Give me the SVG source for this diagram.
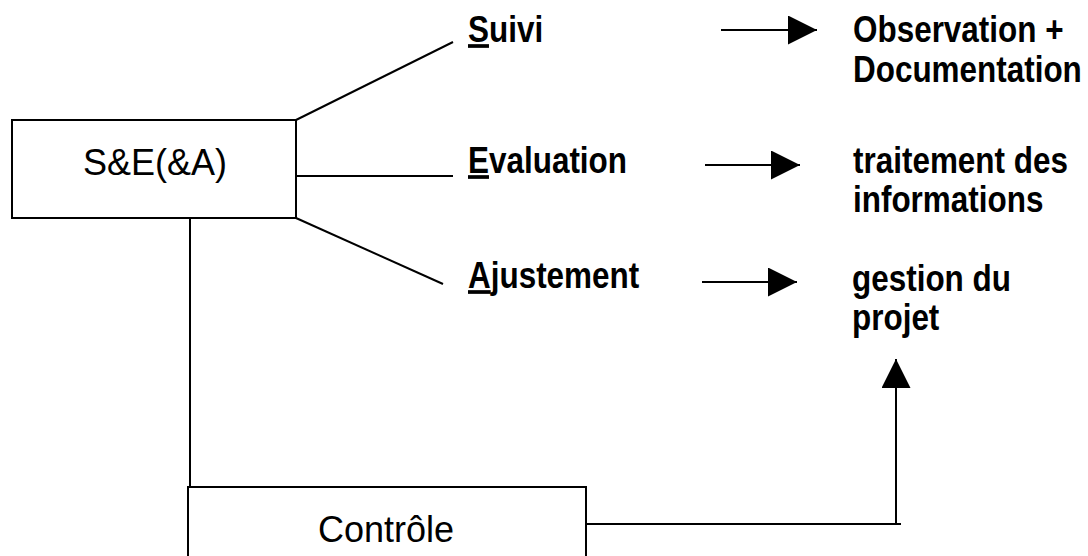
<svg xmlns="http://www.w3.org/2000/svg" width="1088" height="556" viewBox="0 0 1088 556">
  <style>
    .box { fill: #fff; stroke: #000; stroke-width: 2; }
    .line { fill: none; stroke: #000; stroke-width: 2; }
    .arrow { fill: none; stroke: #000; stroke-width: 2; marker-end: url(#head); }
    .reg { font-family: "Liberation Sans", Arial, sans-serif; font-size: 36px; fill: #000; }
    /* narrow bold labels: tall glyphs squeezed horizontally */
    .bold { font-family: "Liberation Sans", Arial, sans-serif; font-size: 37px; font-weight: bold; fill: #000; }
    .ul { text-decoration: underline; }
  </style>
  <defs>
    <marker id="head" markerUnits="userSpaceOnUse" markerWidth="30" markerHeight="30" refX="29" refY="14.5" orient="auto" viewBox="0 0 30 30">
      <path d="M0,0 L29,14.5 L0,29 Z" fill="#000"/>
    </marker>
  </defs>

  <!-- connectors -->
  <g id="connectors">
    <path class="line" d="M296,120 L453,42"/>
    <path class="line" d="M296,176 L453,176"/>
    <path class="line" d="M296,218 L443,284"/>
    <path class="line" d="M190,218 V487"/>
    <path class="arrow" d="M721,30 H817"/>
    <path class="arrow" d="M705,165 H800"/>
    <path class="arrow" d="M702,282 H797"/>
    <path class="line" d="M586,524 H901"/>
    <path class="arrow" d="M896,524 V359"/>
  </g>

  <!-- S&E(&A) -->
  <g id="node-se">
    <rect class="box" x="12" y="120" width="284" height="98"/>
    <text class="reg" x="155" y="175" text-anchor="middle">S&amp;E(&amp;A)</text>
  </g>

  <!-- Contrôle -->
  <g id="node-controle">
    <rect class="box" x="188" y="487" width="398" height="90"/>
    <text class="reg" x="386" y="542" text-anchor="middle">Contrôle</text>
  </g>

  <!-- Suivi -->
  <g id="node-suivi">
    <text class="bold" transform="translate(468,42) scale(0.85,1)"><tspan class="ul">S</tspan>uivi</text>
  </g>
  <g id="node-observation">
    <text class="bold" transform="translate(853,42) scale(0.85,1)">Observation +</text>
    <text class="bold" transform="translate(853,82) scale(0.85,1)">Documentation</text>
  </g>

  <!-- Evaluation -->
  <g id="node-evaluation">
    <text class="bold" transform="translate(468,173) scale(0.85,1)"><tspan class="ul">E</tspan>valuation</text>
  </g>
  <g id="node-traitement">
    <text class="bold" transform="translate(853,173) scale(0.85,1)">traitement des</text>
    <text class="bold" transform="translate(853,212) scale(0.85,1)">informations</text>
  </g>

  <!-- Ajustement -->
  <g id="node-ajustement">
    <text class="bold" transform="translate(468,288) scale(0.85,1)"><tspan class="ul">A</tspan>justement</text>
  </g>
  <g id="node-gestion">
    <text class="bold" transform="translate(852,291) scale(0.85,1)">gestion du</text>
    <text class="bold" transform="translate(852,330) scale(0.85,1)">projet</text>
  </g>
</svg>
